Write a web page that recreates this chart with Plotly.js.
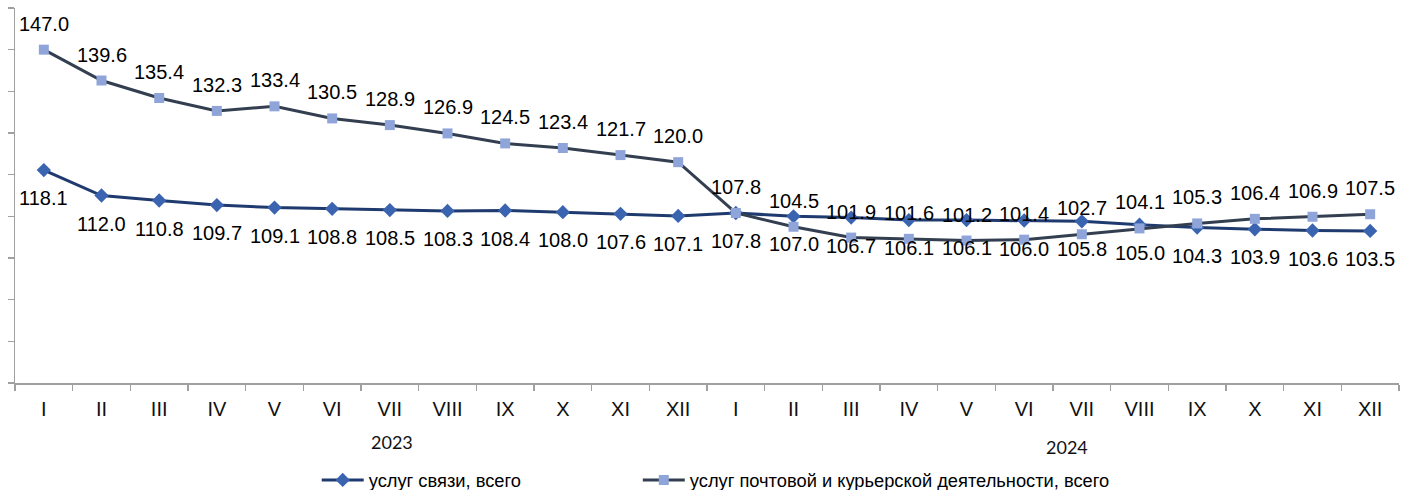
<!DOCTYPE html>
<html>
<head>
<meta charset="utf-8">
<script src="https://cdn.plot.ly/plotly-3.0.1.min.js"></script>
<style>html,body{margin:0;padding:0;background:#fff;}#chart{width:1413px;height:490px;}</style>
</head>
<body>
<div id="chart"></div>
<script>
const months = ["I","II","III","IV","V","VI","VII","VIII","IX","X","XI","XII","I","II","III","IV","V","VI","VII","VIII","IX","X","XI","XII"];
const years = ["2023","2024"];
const seriesNames = ["услуг связи, всего", "услуг почтовой и курьерской деятельности, всего"];
const svyazi = [118.1,112.0,110.8,109.7,109.1,108.8,108.5,108.3,108.4,108.0,107.6,107.1,
                107.8,107.0,106.7,106.1,106.1,106.0,105.8,105.0,104.3,103.9,103.6,103.5];
const pochta = [147.0,139.6,135.4,132.3,133.4,130.5,128.9,126.9,124.5,123.4,121.7,120.0,
                107.8,104.5,101.9,101.6,101.2,101.4,102.7,104.1,105.3,106.4,106.9,107.5];

const xs = months.map((m,i)=>i);

const traceA = {
  x: xs, y: svyazi, name: seriesNames[0], type: 'scatter', mode: 'lines+markers',
  line: {color: '#1f3a6e', width: 3},
  marker: {symbol: 'diamond', size: 11, color: '#3b64b0'},
  hoverinfo: 'none', legend: 'legend'
};
const traceB = {
  x: xs, y: pochta, name: seriesNames[1], type: 'scatter', mode: 'lines+markers',
  line: {color: '#333f50', width: 3},
  marker: {symbol: 'square', size: 10, color: '#8fa5da'},
  hoverinfo: 'none', legend: 'legend2'
};

const labelFont = {family: 'Liberation Sans, Arial, sans-serif', size: 20, color: '#000'};
const annotations = [];
svyazi.forEach((v,i)=>annotations.push({x:i, y:v, xref:'x', yref:'y', text:v.toFixed(1), showarrow:false, yshift:-28, font:labelFont}));
pochta.forEach((v,i)=>annotations.push({x:i, y:v, xref:'x', yref:'y', text:v.toFixed(1), showarrow:false, yshift:26, font:labelFont}));
const yearFont = {family:'Lato, sans-serif', size:18, color:'#111'};
annotations.push({x:6.04, y:-0.157, xref:'x', yref:'paper', yanchor:'middle', xanchor:'center', text:years[0], showarrow:false, font:yearFont});
annotations.push({x:17.75, y:-0.171, xref:'x', yref:'paper', yanchor:'middle', xanchor:'center', text:years[1], showarrow:false, font:yearFont});

const legFont = {family: 'Liberation Sans Narrow, Arial Narrow, sans-serif', size: 18.3, color: '#000'};
const layout = {
  width: 1413, height: 490,
  margin: {l: 15, r: 14, t: 8, b: 107, pad: 0, autoexpand: false},
  paper_bgcolor: '#fff', plot_bgcolor: '#fff',
  showlegend: true,
  legend: {orientation: 'h', x: 0.218, xanchor: 'left', y: -0.2587, yanchor: 'middle',
           font: legFont, itemwidth: 42, bgcolor: 'rgba(0,0,0,0)'},
  legend2: {orientation: 'h', x: 0.450, xanchor: 'left', y: -0.2587, yanchor: 'middle',
           font: legFont, itemwidth: 42, bgcolor: 'rgba(0,0,0,0)'},
  xaxis: {
    range: [-0.5, 23.5], tickmode: 'array', tickvals: xs, ticktext: months,
    ticks: '', showgrid: false, zeroline: false, automargin: false,
    showline: true, linecolor: '#a0a0a0', linewidth: 1.5,
    tickfont: {family: 'Liberation Sans, Arial, sans-serif', size: 20, color: '#111'},
    ticklabelstandoff: 7,
    minor: {tick0: -0.5, dtick: 1, ticks: 'outside', ticklen: 6, tickcolor: '#a0a0a0', tickwidth: 1.5, showgrid: false}
  },
  yaxis: {
    range: [67, 157], tick0: 67, dtick: 10, ticks: 'outside', ticklen: 6, automargin: false,
    tickcolor: '#a0a0a0', tickwidth: 1.5, showticklabels: false,
    showgrid: false, zeroline: false, showline: true, linecolor: '#a0a0a0', linewidth: 1.5
  },
  annotations: annotations
};

Plotly.newPlot('chart', [traceA, traceB], layout, {staticPlot: true, displayModeBar: false});
</script>
</body>
</html>
